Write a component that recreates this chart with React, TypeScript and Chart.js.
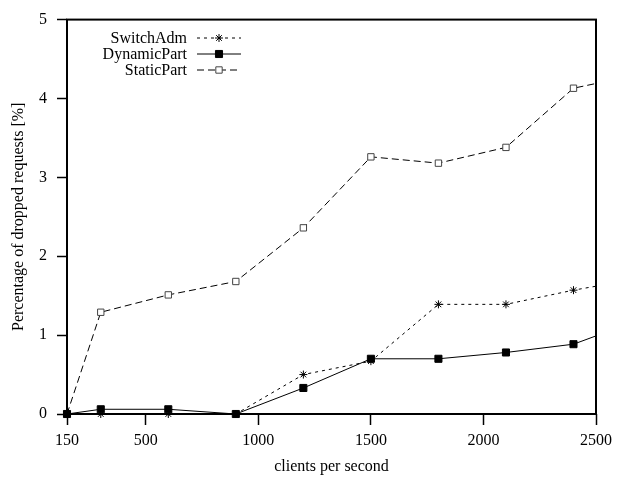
import React, { useEffect, useRef } from "react";
import { Chart, registerables } from "chart.js";

Chart.register(...registerables);

const xValues = [150, 300, 600, 900, 1200, 1500, 1800, 2100, 2400, 2700];
const switchAdm = [0, 0, 0, 0, 0.5, 0.67, 1.39, 1.39, 1.57, 1.72];
const dynamicPart = [0, 0.06, 0.06, 0, 0.33, 0.7, 0.7, 0.78, 0.885, 1.2];
const staticPart = [0, 1.29, 1.51, 1.68, 2.36, 3.26, 3.18, 3.38, 4.13, 4.31];
const xTicks = [150, 500, 1000, 1500, 2000, 2500];
const seriesNames = ["SwitchAdm", "DynamicPart", "StaticPart"];

const FONT = "'Liberation Serif', 'Times New Roman', serif";

const framePlugin = {
  id: "frame",
  afterDatasetsDraw(chart: any) {
    const { ctx, chartArea } = chart;
    ctx.save();
    ctx.strokeStyle = "#000";
    ctx.lineWidth = 2;
    ctx.setLineDash([]);
    ctx.strokeRect(
      chartArea.left,
      chartArea.top,
      chartArea.right - chartArea.left,
      chartArea.bottom - chartArea.top
    );
    ctx.restore();
  },
};

function drawMarker(ctx: CanvasRenderingContext2D, style: string, r: number, x: number, y: number) {
  ctx.beginPath();
  if (style === "rect") {
    const s = Math.SQRT1_2 * r;
    ctx.rect(x - s, y - s, 2 * s, 2 * s);
    ctx.fill();
    ctx.stroke();
  } else if (style === "star") {
    for (let k = 0; k < 4; k++) {
      const a = (k * Math.PI) / 4;
      ctx.moveTo(x + Math.cos(a) * r, y + Math.sin(a) * r);
      ctx.lineTo(x - Math.cos(a) * r, y - Math.sin(a) * r);
    }
    ctx.stroke();
  }
}

const legendPlugin = {
  id: "gpLegend",
  afterDraw(chart: any) {
    const { ctx } = chart;
    ctx.save();
    ctx.font = `16px ${FONT}`;
    ctx.textAlign = "right";
    ctx.textBaseline = "middle";
    chart.data.datasets.forEach((ds: any, i: number) => {
      const y = 38 + i * 16;
      ctx.fillStyle = "#000";
      ctx.fillText(ds.label, 187, y + 1);
      ctx.beginPath();
      ctx.strokeStyle = ds.borderColor;
      ctx.lineWidth = ds.borderWidth;
      ctx.setLineDash(ds.borderDash || []);
      ctx.moveTo(197, y);
      ctx.lineTo(241, y);
      ctx.stroke();
      ctx.setLineDash([]);
      const meta = chart.getDatasetMeta(i);
      const pt = meta.data[0];
      if (pt) {
        const opts = pt.options;
        ctx.lineWidth = opts.borderWidth;
        ctx.strokeStyle = opts.borderColor;
        ctx.fillStyle = opts.backgroundColor;
        drawMarker(ctx, ds.pointStyle, opts.radius, 219, y);
      }
    });
    ctx.restore();
  },
};

export default function App() {
  const ref = useRef<HTMLCanvasElement | null>(null);
  useEffect(() => {
    document.body.style.margin = "0";
    if (!ref.current) return;
    const mk = (vals: number[]) => xValues.map((x, i) => ({ x, y: vals[i] }));
    const clip = { left: 10, top: 10, bottom: 10, right: 0 };
    const chart = new Chart(ref.current, {
      type: "line",
      data: {
        datasets: [
          {
            label: seriesNames[0],
            data: mk(switchAdm),
            borderColor: "#000",
            borderWidth: 1,
            borderDash: [3, 4],
            pointStyle: "star",
            pointRadius: 4,
            pointBorderColor: "#000",
            pointBackgroundColor: "#000",
            pointBorderWidth: 1,
            clip,
          } as any,
          {
            label: seriesNames[1],
            data: mk(dynamicPart),
            borderColor: "#000",
            borderWidth: 1,
            pointStyle: "rect",
            pointRadius: 5,
            pointBorderColor: "#000",
            pointBackgroundColor: "#000",
            pointBorderWidth: 1,
            clip,
          } as any,
          {
            label: seriesNames[2],
            data: mk(staticPart),
            borderColor: "#000",
            borderWidth: 1,
            borderDash: [7, 4],
            pointStyle: "rect",
            pointRadius: 4.5,
            pointBorderColor: "#444",
            pointBackgroundColor: "#fff",
            pointBorderWidth: 1,
            clip,
          } as any,
        ],
      },
      options: {
        animation: false,
        responsive: false,
        devicePixelRatio: 1,
        layout: { padding: { left: 0, right: 20, top: 17, bottom: 0 } },
        plugins: { legend: { display: false }, tooltip: { enabled: false } },
        elements: { line: { tension: 0 } },
        scales: {
          x: {
            type: "linear",
            min: 150,
            max: 2500,
            afterBuildTicks: (scale: any) => {
              scale.ticks = xTicks.map((v) => ({ value: v }));
            },
            afterFit: (scale: any) => {
              scale.height = 63;
            },
            border: { display: false },
            grid: {
              drawOnChartArea: false,
              drawTicks: true,
              tickLength: 11,
              tickColor: "#000",
              tickWidth: 1.5,
              color: "#000",
            },
            ticks: {
              color: "#000",
              font: { family: FONT, size: 16 },
              padding: 6,
              maxRotation: 0,
              autoSkip: false,
              callback: (v: any) => String(v),
            },
            title: {
              display: true,
              text: "clients per second",
              color: "#000",
              font: { family: FONT, size: 16 },
              padding: { top: 0, bottom: 1 },
            },
          },
          y: {
            min: 0,
            max: 5,
            afterFit: (scale: any) => {
              scale.width = 67;
            },
            border: { display: false },
            grid: {
              drawOnChartArea: false,
              drawTicks: true,
              tickLength: 10,
              tickColor: "#000",
              tickWidth: 1.5,
              color: "#000",
            },
            ticks: {
              stepSize: 1,
              color: "#000",
              font: { family: FONT, size: 16 },
              padding: 10,
            },
            title: {
              display: true,
              text: "Percentage of dropped requests [%]",
              color: "#000",
              font: { family: FONT, size: 16 },
              padding: { top: 9, bottom: 0 },
            },
          },
        },
      } as any,
      plugins: [framePlugin, legendPlugin],
    });
    return () => chart.destroy();
  }, []);
  return (
    <div style={{ width: 618, height: 477, position: "relative" }}>
      <canvas ref={ref} width={618} height={477} style={{ display: "block" }} />
    </div>
  );
}
